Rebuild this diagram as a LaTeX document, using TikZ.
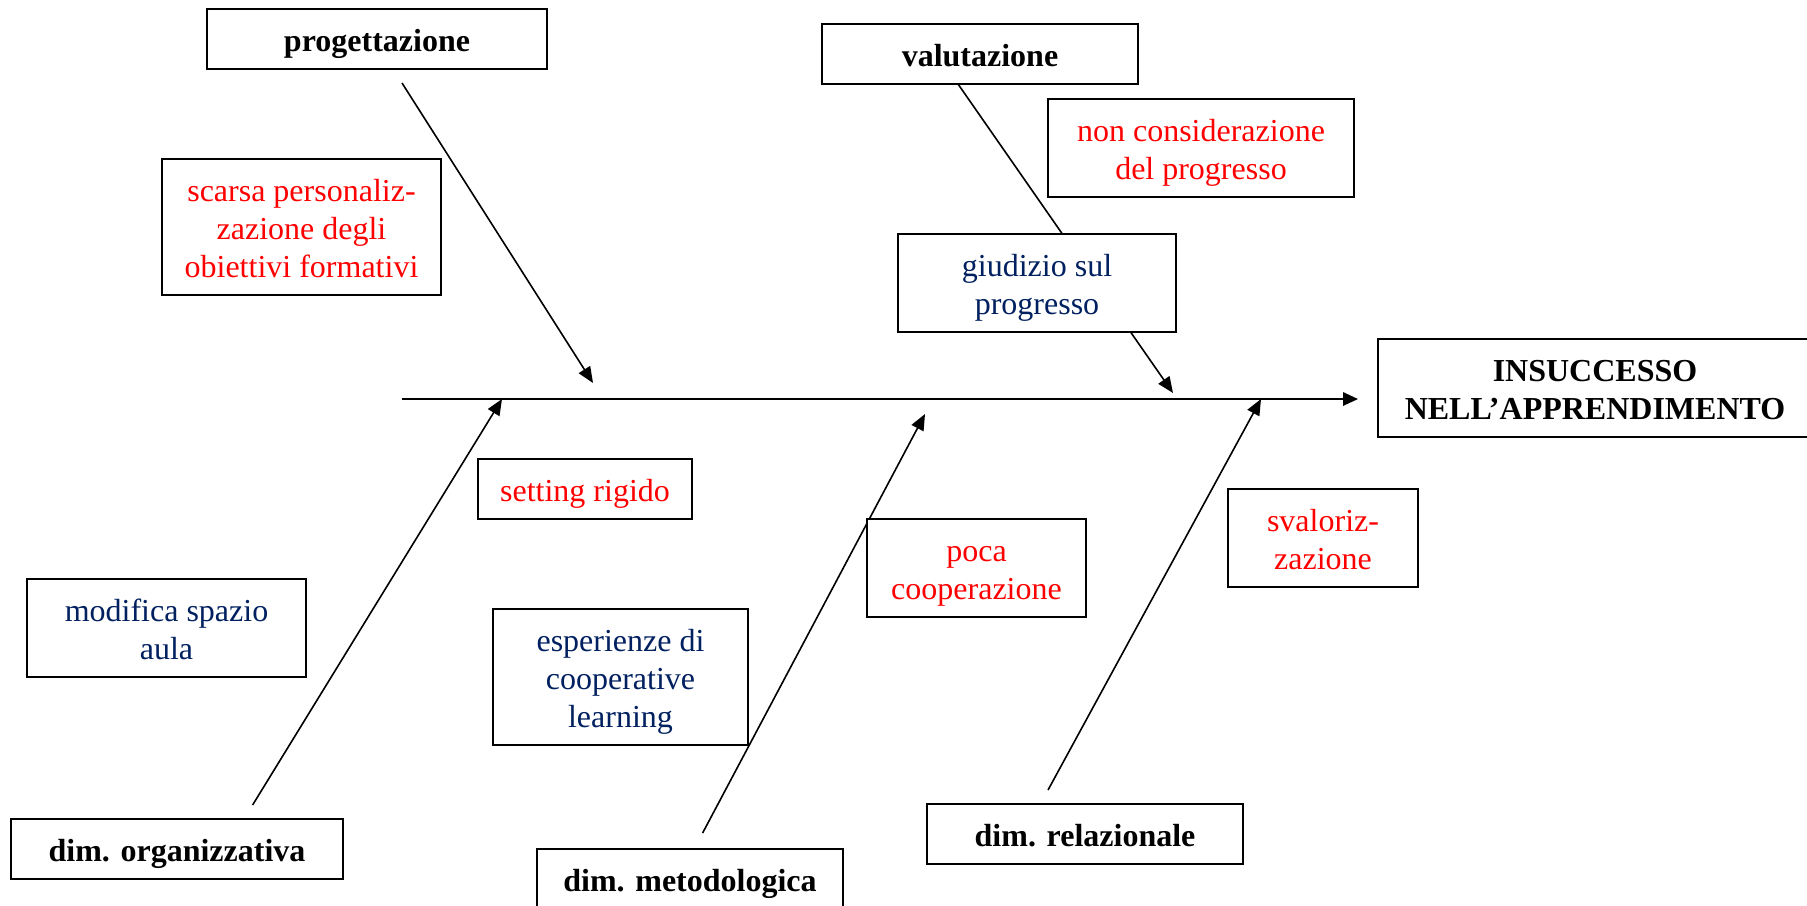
\documentclass[tikz,border=0pt]{standalone}
\usepackage{fontspec}
\setmainfont{Liberation Serif}
\usepackage{tikz}
\usetikzlibrary{arrows.meta,backgrounds}
\definecolor{navy}{RGB}{0,32,96}
\newlength\unitpx
\setlength\unitpx{0.375pt}
\newcommand{\boxtxt}[1]{\raisebox{-2pt}[\height][\depth]{\begin{tabular}{@{}c@{}}#1\end{tabular}}}

\begin{document}
\begin{tikzpicture}[x=0.375pt,y=-0.375pt,
  wh/.style 2 args={minimum width=#1*\unitpx,minimum height=#2*\unitpx},
  box/.style={draw,line width=0.75pt,fill=white,inner sep=0pt,
    font=\fontsize{12}{14.25}\selectfont},
  head/.style={box,font=\fontsize{12}{14.25}\selectfont\bfseries},
  bad/.style={box,text=red},
  good/.style={box,text=navy},
  bone/.style={line width=0.6pt,-{Triangle[length=6pt,width=5pt]}}]
\useasboundingbox (0,0) rectangle (1807,905);

\node[head,wh={340}{60}] (prog) at (377,39) {\boxtxt{progettazione}};
\node[head,wh={316}{60}] (valut) at (980,54) {\boxtxt{valutazione}};
\node[head,wh={434}{98}] (insucc) at (1595,388) {\boxtxt{INSUCCESSO\\NELL'APPRENDIMENTO}};
\node[head,wh={332}{60}] (organ) at (177,849) {\boxtxt{dim. organizzativa}};
\node[head,wh={306}{60}] (metod) at (690,879) {\boxtxt{dim. metodologica}};
\node[head,wh={316}{60}] (relaz) at (1085,834) {\boxtxt{dim. relazionale}};

\node[bad,wh={279}{136}] (scarsa) at (301.5,227) {\boxtxt{scarsa personaliz-\\zazione degli\\obiettivi formativi}};
\node[bad,wh={306}{98}] (noncons) at (1201,148) {\boxtxt{non considerazione\\del progresso}};
\node[bad,wh={214}{60}] (setting) at (585,489) {\boxtxt{setting rigido}};
\node[bad,wh={219}{98}] (poca) at (976.5,568) {\boxtxt{poca\\cooperazione}};
\node[bad,wh={190}{98}] (svalor) at (1323,538) {\boxtxt{svaloriz-\\zazione}};

\node[good,wh={278}{98}] (giudizio) at (1037,283) {\boxtxt{giudizio sul\\progresso}};
\node[good,wh={279}{98}] (modifica) at (166.5,628) {\boxtxt{modifica spazio\\aula}};
\node[good,wh={255}{136}] (esper) at (620.5,677) {\boxtxt{esperienze di\\cooperative\\learning}};

\coordinate (spineS) at (402,399);
\coordinate (spineT) at (1358,399);
\coordinate (progS) at (402,83);
\coordinate (progT) at (593,383);
\coordinate (valS) at (958,84);
\coordinate (valT) at (1173,393);
\coordinate (organS) at (252.6,805);
\coordinate (organT) at (502,399);
\coordinate (metodS) at (702.6,833);
\coordinate (metodT) at (925,414);
\coordinate (relazS) at (1048,790);
\coordinate (relazT) at (1261,399);

\begin{scope}[on background layer]
\draw[line width=0.75pt,-{Triangle[length=5.6pt,width=5pt]}] (spineS) -- (spineT);
\draw[bone] (progS) -- (progT);
\draw[bone] (valS) -- (valT);
\draw[bone] (organS) -- (organT);
\draw[bone] (metodS) -- (metodT);
\draw[bone] (relazS) -- (relazT);
\end{scope}
\end{tikzpicture}
\end{document}
